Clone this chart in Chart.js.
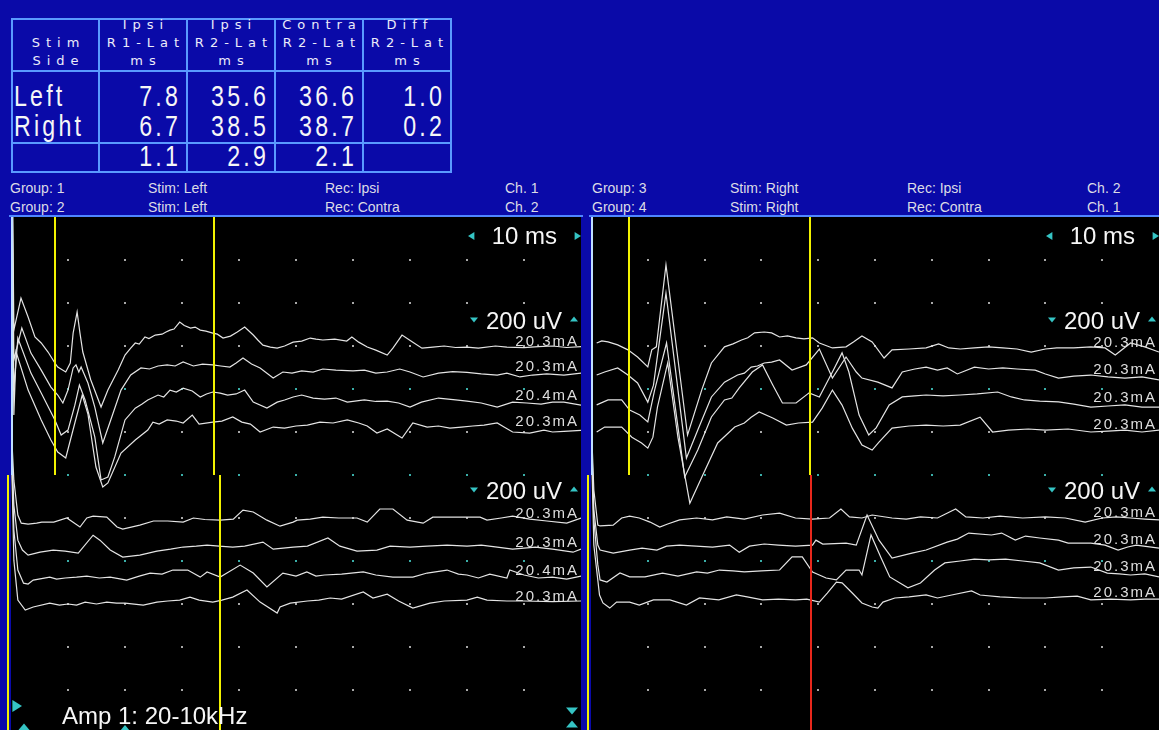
<!DOCTYPE html>
<html>
<head>
<meta charset="utf-8">
<script src="https://cdn.jsdelivr.net/npm/chart.js@4.4.0/dist/chart.umd.min.js"></script>
<style>
html, body { margin: 0; padding: 0; }
body { width: 1159px; height: 730px; overflow: hidden; position: relative; background: #0a0aa8; font-family: Arial, "Liberation Sans", sans-serif; }
.ln { position: absolute; background: #5a9aff; }
.hd { position: absolute; color: #ececfa; font-family: "DejaVu Sans", Verdana, sans-serif; font-size: 13px; letter-spacing: 6px; text-align: center; line-height: 18px; padding-left: 6px; box-sizing: border-box; white-space: nowrap; }
.val { position: absolute; color: #f6f6f6; font-family: Arial, "Liberation Sans", sans-serif; font-size: 29px; line-height: 30px; height: 30px; letter-spacing: 4px; white-space: nowrap; transform: scaleX(0.8); }
.info { position: absolute; color: #dcdce6; font-size: 14px; line-height: 16px; white-space: nowrap; }
canvas { position: absolute; }
</style>
</head>
<body>
<div id="table"></div>
<div id="info"></div>
<canvas id="leftScope" width="583" height="515" style="left:0;top:215px"></canvas>
<canvas id="rightScope" width="578" height="515" style="left:583px;top:215px"></canvas>
<script>
// latency table (ms)
const tableHead = [['', 'Stim', 'Side'], ['Ipsi', 'R1-Lat', 'ms'], ['Ipsi', 'R2-Lat', 'ms'], ['Contra', 'R2-Lat', 'ms'], ['Diff', 'R2-Lat', 'ms']];
const stimSides = ['Left', 'Right', ''];
const ipsiR1Lat = [7.8, 6.7, 1.1];
const ipsiR2Lat = [35.6, 38.5, 2.9];
const contraR2Lat = [36.6, 38.7, 2.1];
const diffR2Lat = [1.0, 0.2, null];

const groupInfoLeft = [['Group: 1', 'Stim: Left', 'Rec: Ipsi', 'Ch. 1'], ['Group: 2', 'Stim: Left', 'Rec: Contra', 'Ch. 2']];
const groupInfoRight = [['Group: 3', 'Stim: Right', 'Rec: Ipsi', 'Ch. 2'], ['Group: 4', 'Stim: Right', 'Rec: Contra', 'Ch. 1']];

// stimulus intensity per sweep
const g1Currents = ['20.3mA', '20.3mA', '20.4mA', '20.3mA'];
const g2Currents = ['20.3mA', '20.3mA', '20.4mA', '20.3mA'];
const g3Currents = ['20.3mA', '20.3mA', '20.3mA', '20.3mA'];
const g4Currents = ['20.3mA', '20.3mA', '20.3mA', '20.3mA'];

// sweep baselines on screen (uV, 200 uV / div)
const g1Base = [-605, -721, -856, -977];
const g2Base = [-1405, -1540, -1670, -1791];
const g3Base = [-609, -735, -865, -991];
const g4Base = [-1400, -1526, -1651, -1772];

// sweeps: [ms, uV]
// Group 1 - stim left, rec ipsi
const g1a = [[0,1500],[0.5,79],[1.75,228],[3.0,140],[4.2,47],[5.3,19],[6.5,-23],[7.7,-74],[8.2,-93],[9.6,-116],[10.4,-74],[10.9,65],[11.6,163],[12.1,65],[12.6,-23],[14.0,-153],[15.8,-279],[17.0,-200],[18.8,-107],[20.0,-37],[21.0,-5],[21.8,19],[22.5,14],[23.5,47],[24.2,40],[25.3,56],[26.5,60],[27.2,70],[27.9,79],[28.6,84],[29.6,116],[30.4,100],[31.5,88],[32.3,93],[33.2,79],[34.2,74],[35.4,65],[36.2,60],[37.2,42],[38.5,51],[39.7,70],[41.0,93],[42.5,56],[43.3,33],[44.2,9],[45.5,0],[46.7,-5],[48,5],[49.5,23],[51,28],[52.5,42],[53.5,37],[54.7,33],[56.8,37],[58.9,28],[59.8,47],[61,23],[62.5,0],[64,-14],[66.0,-37],[67.0,-5],[68.6,56],[70.5,23],[72.1,-5],[74,0],[76,5],[78,-2],[80,0],[82,-5],[85,5],[87,0],[90,-3],[92.5,2],[95,5],[97.5,-2],[100,2]];
const g1b = [[0,1500],[0.5,56],[1.9,205],[3.5,88],[5.3,9],[7.0,-70],[8.2,-107],[9.1,-144],[10.0,-84],[10.9,19],[11.4,33],[11.9,0],[12.3,23],[13.5,-51],[14.7,-163],[16.1,-330],[17.5,-223],[19.3,-84],[21.0,-14],[22.8,19],[24.3,14],[25.8,28],[27.4,33],[28.8,28],[30.2,47],[32.0,28],[33.6,37],[35.4,33],[36.8,28],[38.4,23],[39.5,42],[40.7,65],[42.2,37],[43.7,19],[46.0,-28],[47.7,0],[49.3,-5],[51,5],[53,0],[54.7,14],[57,9],[60,5],[62,9],[64,-5],[66,0],[68.2,14],[70,0],[72.3,-23],[75,-5],[77.5,2],[80,-2],[82.5,-9],[85.3,-14],[87,-5],[89.3,-23],[91.5,-14],[94,-9],[97,-14],[100,-5]];
const g1c = [[0,1500],[0.5,51],[1.2,293],[3.5,130],[5.3,37],[7.7,-88],[8.8,-158],[10.0,-135],[11.2,-19],[12.0,74],[13.0,5],[14.7,-167],[15.8,-367],[17.0,-353],[18.2,-260],[20.0,-88],[21.8,-33],[23,-14],[24.0,5],[25.8,28],[26.8,19],[27.9,51],[29,42],[30.2,60],[31.8,47],[33.2,19],[34.3,33],[35.4,42],[36.7,37],[38.0,28],[39.5,33],[41.0,51],[42.5,-5],[44.9,-33],[46.7,-5],[48,5],[49.5,19],[51.0,28],[53,14],[55.0,9],[57,14],[59.0,-5],[62,5],[64,-2],[66.0,0],[68,-9],[70.0,-28],[72,-5],[75.0,14],[78.0,5],[80,0],[82.5,-9],[85.3,-28],[88.0,-5],[90.5,-9],[93.0,-14],[95,-5],[97.0,-5],[100,-19]];
const g1d = [[0,1500],[0.5,56],[0.9,349],[3.0,172],[5.3,33],[7.0,-60],[8.2,-116],[9.6,-144],[11.2,19],[12.5,149],[13.5,60],[14.9,-186],[16.1,-279],[17.0,-260],[19.3,-121],[21.8,-60],[24.0,-14],[24.9,23],[26,14],[27.4,33],[29,28],[30.2,19],[31.8,56],[33.0,14],[35.4,23],[37,28],[38.9,47],[40.5,23],[42,14],[43.7,-23],[46.0,0],[48,-5],[50,5],[52,9],[54.2,23],[56.5,19],[59.0,33],[61,19],[62.5,5],[64.2,-28],[66,-9],[68.6,-51],[70.5,19],[73,0],[75,5],[77,-5],[79,0],[81,5],[83,9],[85.3,19],[86.5,0],[88.0,-23],[91.0,-28],[93.5,-14],[95,-23],[97.0,-20],[100,-15]];
// Group 2 - stim left, rec contra
const g2a = [[0,450],[0.5,181],[1.2,19],[1.8,-19],[3.0,-23],[4.5,-19],[5.4,-14],[7.5,-14],[9.8,5],[12.1,-37],[13.3,5],[14.4,14],[16.8,9],[18.6,-37],[19.6,-47],[22.6,-28],[25.0,-9],[27.5,-9],[30.2,-14],[32.0,5],[34,-2],[36.7,-5],[39,0],[40.7,42],[42.5,33],[44.9,-5],[47.2,-33],[49.5,-14],[50.2,-5],[52.5,0],[54.7,9],[57.5,5],[60.7,5],[62.5,-14],[64.7,47],[67.0,47],[69.5,-5],[72.3,-19],[74.0,9],[78,9],[82.3,9],[83.5,-5],[86,5],[88.0,14],[91,0],[94.0,-9],[97.5,-19],[100,5]];
const g2b = [[0,560],[0.5,200],[1.2,37],[2.0,-9],[3.0,-33],[5.1,-19],[7.4,-9],[9.5,-14],[11.8,-23],[14.4,60],[15.6,37],[17.4,-9],[19.6,-42],[22.6,-33],[25.6,-14],[28,-5],[30.2,5],[32.5,9],[34.4,14],[36.5,9],[38.9,5],[41,9],[44.2,28],[46.0,-5],[49.5,5],[52,9],[55.6,47],[57.7,9],[60.7,-14],[64.2,-9],[66.5,9],[70,5],[73,9],[76.5,14],[80,9],[82.5,14],[85.3,5],[88,-5],[90,0],[92,5],[95,-5],[98.6,-19],[100,-5]];
const g2c = [[0,680],[0.5,214],[1.2,28],[2.2,-33],[3.0,-37],[3.9,-19],[6.8,-5],[8,-14],[9.5,-9],[11.5,-5],[13.3,0],[15.5,-9],[17.4,-5],[20.3,-19],[22.5,0],[24.4,14],[26.5,9],[28.4,28],[31,28],[33.2,-5],[34.4,19],[36.7,-5],[40.2,51],[42.5,14],[44.9,-51],[47.7,14],[50,0],[51.9,19],[53.5,0],[55,5],[58,9],[61.8,19],[64,5],[67,-5],[70.5,-5],[73,14],[76.5,28],[78.5,9],[80,5],[82,-9],[84,9],[87.0,-9],[87.5,28],[90,5],[92.5,-9],[95,-5],[97.5,-14],[100,0]];
const g2d = [[0,800],[0.5,195],[1.2,9],[2.5,-37],[3.9,-23],[6.8,-5],[8.5,-14],[10,-9],[11.5,-14],[13,0],[15,-9],[16.8,0],[18.5,-5],[20,-5],[23.2,-14],[25.6,0],[27.5,5],[29.6,9],[31.4,23],[33,9],[35.4,0],[37,9],[38.9,23],[41.4,56],[43.7,0],[46.7,-51],[47.2,-23],[49.0,-5],[52,5],[54,9],[56.0,19],[58,14],[61.8,47],[63.5,19],[66.0,37],[68,5],[70.5,-28],[73.5,-5],[76,5],[80.0,9],[81.8,23],[83.5,9],[87,5],[90,5],[95,2],[100,5]];
// Group 3 - stim right, rec ipsi
const g3a = [[1.0,23],[1.9,33],[3.0,28],[4.7,14],[6.5,-9],[8.2,-42],[10.0,-88],[10.7,-9],[11.5,5],[13.2,386],[17.0,-405],[19.5,-195],[21.2,-70],[23.5,5],[25,19],[26.5,37],[27.6,47],[28.8,70],[30.5,74],[31.8,70],[33.2,51],[34.6,56],[36.1,47],[37.5,42],[39.0,47],[40.2,23],[42.5,0],[44.9,5],[46.2,28],[47.7,56],[49.5,28],[51.6,-47],[53.0,-9],[56,-5],[59.0,0],[61.2,19],[63,0],[65,-5],[67.5,0],[70,5],[72.5,0],[75,-5],[77.5,-19],[80,-5],[82,0],[85,0],[88,5],[90.5,0],[92.3,-33],[95,23],[97.5,5],[100,-19]];
const g3b = [[1.0,0],[2.4,14],[4.7,33],[6.5,0],[8.2,-37],[10.0,-126],[11.0,-47],[13.2,381],[16.8,-386],[18.8,-256],[21.2,-102],[23.5,-33],[25.8,0],[27,9],[28.2,37],[29.3,42],[30.5,56],[31.8,60],[33.2,70],[35.4,23],[37.9,47],[40.2,121],[42.5,-14],[44.9,84],[46.7,14],[47.7,-14],[50.5,-33],[53.0,-60],[54.8,14],[57,28],[59.0,37],[61,23],[62.7,33],[64.5,5],[67.5,37],[70,28],[72.5,33],[75.0,28],[78.2,23],[80,5],[82.3,-14],[85,-5],[88.0,0],[91,-9],[94.0,-14],[97,-9],[100,-23]];
const g3c = [[1.0,-9],[3.0,14],[5.4,14],[6.8,-33],[8.6,-56],[10.0,-88],[11.2,60],[13.3,279],[16.5,-344],[18.8,-219],[21.2,-65],[23.5,14],[24.8,23],[26.1,70],[28.4,144],[30.2,177],[32.0,84],[33.7,0],[36.1,0],[38.4,47],[40.2,28],[42.5,144],[44.2,233],[45.4,144],[47.2,-56],[48.9,-149],[50.2,-116],[52.5,-9],[54.8,28],[57,33],[59.0,37],[62,33],[65.0,37],[68,42],[71.6,51],[74,28],[76.3,14],[79,9],[82.3,5],[85,-5],[88.0,-19],[91,-14],[94.0,-9],[97,-19],[100,-19]];
const g3d = [[1.0,-9],[2.4,14],[5.4,14],[7.2,-33],[8.9,-60],[10.0,-84],[10.9,-33],[11.7,107],[13.5,312],[15.3,-33],[17.4,-340],[19.5,-219],[22.3,-60],[25.3,14],[27,33],[28.2,60],[29.6,84],[32.0,56],[34.4,23],[36.5,33],[39.0,37],[40.7,102],[42.5,186],[44.2,116],[46.0,9],[47.7,-70],[49.5,-93],[50.7,-56],[53.0,9],[56,19],[59.0,23],[62,19],[65.0,23],[68.5,60],[70.7,-9],[73.5,0],[77.0,5],[80,0],[84,5],[88.0,-9],[91,-5],[94.0,0],[97,-9],[100,0]];
// Group 4 - stim right, rec contra
const g4a = [[0,480],[0.5,130],[1.2,-33],[1.6,-37],[3.9,-33],[5.4,0],[6.8,9],[8.5,0],[10.4,-19],[12.1,-42],[13.5,-28],[15.6,-9],[18.6,0],[21.4,-9],[23.9,5],[27.0,-5],[30.2,14],[33.2,23],[36.0,0],[39.0,-5],[42.0,0],[44.0,42],[45.5,5],[47.7,0],[49.5,14],[53.0,0],[55.5,-5],[58.0,5],[61,0],[64.2,42],[66.0,5],[69,0],[72.0,9],[76,0],[80.0,5],[83.5,0],[87.0,-19],[90.0,0],[92.5,5],[95.0,0],[97.5,-5],[100,-9]];
const g4b = [[0,600],[0.5,163],[1.2,0],[1.6,-23],[3.9,-37],[6.8,-23],[9.0,-14],[11.6,-23],[13.3,-5],[15.6,0],[18.5,-5],[21.4,-9],[24.4,0],[26.1,-33],[27.9,-5],[30.5,5],[33.0,0],[36,-5],[39.0,0],[39.6,23],[40.8,5],[44.9,9],[46.7,0],[48.6,140],[50.7,23],[53.0,-60],[56.5,-37],[59.0,-23],[62.7,14],[64.5,28],[66.5,56],[70.5,47],[72.3,56],[74.7,23],[76.5,42],[79,33],[82.3,23],[84.0,9],[88.0,9],[90.5,0],[92.8,-23],[94.5,-9],[96.0,0],[100,-14]];
const g4c = [[0,700],[0.5,242],[1.2,33],[1.6,-37],[2.8,-47],[5.1,-5],[6.8,-23],[9.5,-23],[12.6,-5],[15.3,-19],[18.6,0],[20.5,-5],[22.6,9],[25,5],[27.0,0],[30,5],[33.2,9],[35.4,70],[37.2,70],[39.0,0],[41.4,-28],[43.2,-37],[44.9,9],[47.2,9],[47.7,-14],[49.3,172],[51.0,70],[52.6,-23],[55.8,-74],[58.0,-51],[60.5,9],[62.3,42],[65,51],[67.5,60],[70,56],[73.0,60],[76,51],[79.0,42],[82.3,9],[85,19],[88.0,23],[90.9,-5],[93,-9],[95.0,-14],[97.5,-9],[100,-23]];
const g4d = [[0,800],[0.5,246],[1.5,14],[2.1,-23],[3.3,-47],[4.5,-19],[6.8,-19],[8.5,-33],[11.0,-9],[13.9,-9],[16.8,-33],[19.1,0],[22.5,-9],[25.6,14],[27.5,5],[30.2,-9],[33,-5],[36.0,-9],[38,-5],[40.2,-19],[41.6,23],[43.2,74],[44.2,70],[46.0,23],[47.7,-23],[49.5,-42],[50.5,-47],[51.4,-19],[53.5,0],[56.0,5],[59.0,14],[61.0,0],[63.5,14],[67.0,33],[68.5,14],[72.0,5],[76,0],[80.0,0],[83,5],[85.6,9],[88.0,-9],[91.5,-5],[95.0,-9],[97.5,-5],[100,-5]];

// ---------- table + header text ----------
const colEdges = [12, 99, 187, 275, 363, 451];
const rowEdges = [19, 71, 143, 172];
const table = document.getElementById('table');
function addDiv(parent, cls, css, text) {
    const d = document.createElement('div');
    d.className = cls;
    d.style.cssText = css;
    if (text !== undefined) d.textContent = text;
    parent.appendChild(d);
    return d;
}
colEdges.forEach(x => addDiv(table, 'ln', `left:${x - 1}px;top:${rowEdges[0] - 1}px;width:2px;height:${rowEdges[3] - rowEdges[0] + 2}px`));
rowEdges.forEach(y => addDiv(table, 'ln', `left:${colEdges[0] - 1}px;top:${y - 1}px;width:${colEdges[5] - colEdges[0] + 2}px;height:2px`));
tableHead.forEach((lines, c) => {
    lines.forEach((txt, r) => {
        addDiv(table, 'hd', `left:${colEdges[c]}px;top:${16 + r * 18}px;width:${colEdges[c + 1] - colEdges[c]}px`, txt);
    });
});
const valueCols = [ipsiR1Lat, ipsiR2Lat, contraR2Lat, diffR2Lat];
stimSides.forEach((side, r) => {
    const top = 81 + r * 30;
    if (side) addDiv(table, 'val', `left:14px;top:${top}px;transform-origin:left center`, side);
    valueCols.forEach((col, c) => {
        if (col[r] === null) return;
        addDiv(table, 'val', `left:${colEdges[c + 1]}px;top:${top}px;width:${colEdges[c + 2] - colEdges[c + 1] - 6}px;text-align:right;transform-origin:right center`, col[r].toFixed(1));
    });
});

const info = document.getElementById('info');
const infoCols = [10, 148, 325, 505];
[[groupInfoLeft, 0], [groupInfoRight, 582]].forEach(([rows, dx]) => {
    rows.forEach((row, r) => {
        row.forEach((txt, c) => addDiv(info, 'info', `left:${infoCols[c] + dx}px;top:${180 + r * 19}px`, txt));
    });
});

// ---------- scope panels ----------
const tealRows = [-800, -1200, -1600];

function tri(ctx, x, y, dir, s) {
    ctx.beginPath();
    if (dir === 'left') { ctx.moveTo(x - s, y); ctx.lineTo(x + s * 0.6, y - s); ctx.lineTo(x + s * 0.6, y + s); }
    if (dir === 'right') { ctx.moveTo(x + s, y); ctx.lineTo(x - s * 0.6, y - s); ctx.lineTo(x - s * 0.6, y + s); }
    if (dir === 'down') { ctx.moveTo(x - s, y - s * 0.6); ctx.lineTo(x + s, y - s * 0.6); ctx.lineTo(x, y + s * 0.6); }
    if (dir === 'up') { ctx.moveTo(x - s, y + s * 0.6); ctx.lineTo(x + s, y + s * 0.6); ctx.lineTo(x, y - s * 0.6); }
    ctx.closePath();
    ctx.fill();
}

const scopeDecor = {
    id: 'scopeDecor',
    beforeDraw(chart) {
        const { ctx, chartArea: a } = chart;
        ctx.save();
        ctx.fillStyle = '#000';
        ctx.fillRect(a.left, a.top, a.right - a.left, a.bottom - a.top);
        ctx.restore();
    },
    beforeDatasetsDraw(chart) {
        const { ctx, scales: { x, y } } = chart;
        ctx.save();
        for (let t = 10; t < 100; t += 10) {
            for (let v = -200; v > -2386; v -= 200) {
                ctx.fillStyle = tealRows.includes(v) ? '#3aaea8' : '#a8a8a8';
                ctx.fillRect(Math.round(x.getPixelForValue(t)) - 1, Math.round(y.getPixelForValue(v)) - 1, 2, 2);
            }
        }
        ctx.restore();
    },
    afterDatasetsDraw(chart, args, o) {
        const { ctx, chartArea: a, scales: { x, y } } = chart;
        const mid = Math.round(y.getPixelForValue(-1200));
        ctx.save();
        // frame and zero markers
        ctx.fillStyle = '#4f86ff';
        ctx.fillRect(a.left - 2, a.top - 2, a.right - a.left + 4, 2);
        ctx.fillStyle = '#bfe0ff';
        ctx.fillRect(a.left, a.top, 2, mid - a.top);
        ctx.fillStyle = '#f2f200';
        ctx.fillRect(a.left - 4, mid, 2, a.bottom - mid);
        // latency cursors
        o.cursors.forEach(c => {
            const px = Math.round(x.getPixelForValue(c.t));
            ctx.fillStyle = c.color;
            const y0 = c.lower ? mid : a.top;
            const y1 = c.lower ? a.bottom : mid;
            ctx.fillRect(px - 1, y0, 2, y1 - y0);
        });
        // stim intensity labels
        ctx.fillStyle = '#dedede';
        ctx.font = '15px Arial, "Liberation Sans", sans-serif';
        ctx.letterSpacing = '2px';
        ctx.textAlign = 'right';
        ctx.textBaseline = 'alphabetic';
        chart.data.datasets.forEach(ds => {
            ctx.fillText(ds.stimLabel, a.right - 2, Math.round(y.getPixelForValue(ds.baseUv)) - 1);
        });
        ctx.letterSpacing = '0px';
        // sensitivity / timebase
        ctx.fillStyle = '#f6f6f6';
        ctx.font = '24px Arial, "Liberation Sans", sans-serif';
        ctx.fillText('10 ms', a.right - 24, a.top + 27);
        ctx.fillText('200 uV', a.right - 19, a.top + 112);
        ctx.fillText('200 uV', a.right - 19, a.top + 282);
        ctx.fillStyle = '#35c4c4';
        tri(ctx, a.right - 109, a.top + 19, 'left', 4);
        tri(ctx, a.right - 4, a.top + 19, 'right', 4);
        tri(ctx, a.right - 107, a.top + 103, 'down', 4);
        tri(ctx, a.right - 7, a.top + 102, 'up', 4);
        tri(ctx, a.right - 107, a.top + 273, 'down', 4);
        tri(ctx, a.right - 7, a.top + 272, 'up', 4);
        if (o.amp) {
            tri(ctx, a.left + 5, a.bottom - 24, 'right', 6);
            tri(ctx, a.left + 13, a.bottom - 3, 'up', 6);
            tri(ctx, a.left + 114, a.bottom - 2, 'up', 5);
            tri(ctx, a.right - 9, a.bottom - 19, 'down', 6);
            tri(ctx, a.right - 9, a.bottom - 6, 'up', 6);
            ctx.fillStyle = '#f6f6f6';
            ctx.textAlign = 'left';
            ctx.fillText(o.amp, a.left + 51, a.bottom - 6);
        }
        ctx.restore();
    }
};

function makeScope(id, traces, bases, currents, padLeft, cursors, amp) {
    const datasets = traces.map((tr, i) => ({
        data: tr.map(p => ({ x: p[0], y: p[1] + bases[i] })),
        borderColor: '#e4e4e4',
        borderWidth: 1.2,
        pointRadius: 0,
        tension: 0,
        stimLabel: currents[i],
        baseUv: bases[i]
    }));
    return new Chart(document.getElementById(id), {
        type: 'line',
        data: { datasets: datasets },
        options: {
            animation: false,
            responsive: false,
            layout: { padding: { left: padLeft, top: 2, right: 2, bottom: 0 } },
            scales: {
                x: { type: 'linear', min: 0, max: 100, display: false },
                y: { type: 'linear', min: -2386, max: 0, display: false }
            },
            plugins: {
                legend: { display: false },
                tooltip: { enabled: false },
                scopeDecor: { cursors: cursors, amp: amp }
            }
        },
        plugins: [scopeDecor]
    });
}

makeScope('leftScope', [g1a, g1b, g1c, g1d, g2a, g2b, g2c, g2d], g1Base.concat(g2Base), g1Currents.concat(g2Currents), 11, [
    { t: ipsiR1Lat[0], color: '#f2f200' },
    { t: ipsiR2Lat[0], color: '#f2f200' },
    { t: contraR2Lat[0], color: '#f2f200', lower: true }
], 'Amp 1: 20-10kHz');

makeScope('rightScope', [g3a, g3b, g3c, g3d, g4a, g4b, g4c, g4d], g3Base.concat(g4Base), g3Currents.concat(g4Currents), 8, [
    { t: ipsiR1Lat[1], color: '#f2f200' },
    { t: ipsiR2Lat[1], color: '#f2f200' },
    { t: contraR2Lat[1], color: '#e8281c', lower: true }
], null);
</script>
</body>
</html>
